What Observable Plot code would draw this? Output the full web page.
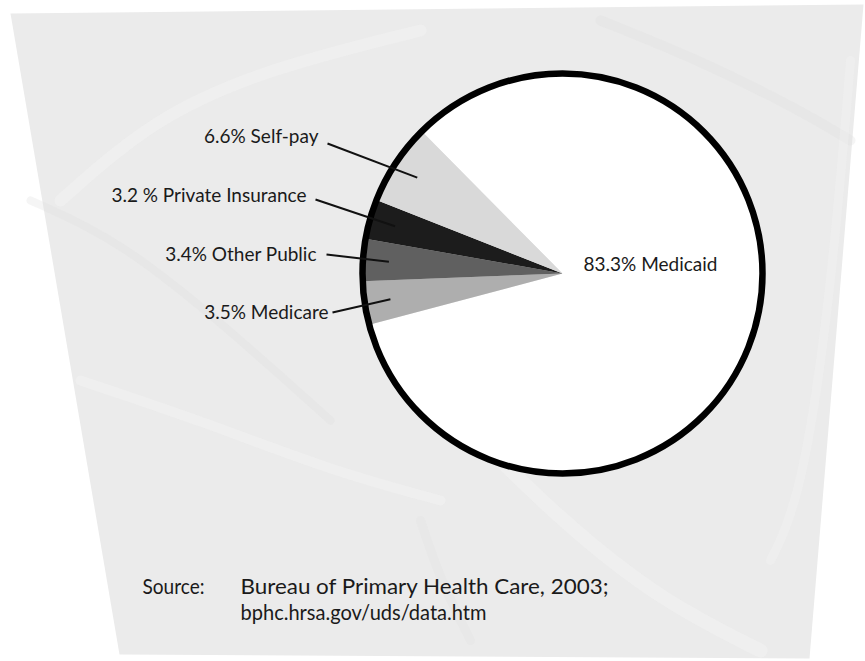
<!DOCTYPE html>
<html>
<head>
<meta charset="utf-8">
<script src="https://cdn.jsdelivr.net/npm/d3@7"></script>
<script src="https://cdn.jsdelivr.net/npm/@observablehq/plot@0.6"></script>
<style>
  html, body { margin: 0; padding: 0; background: #ffffff; }
  #chart svg { display: block; }
</style>
</head>
<body>
<div id="chart"></div>
<script>
// ---- data ----
const categories = ["Medicaid", "Medicare", "Other Public", "Private Insurance", "Self-pay"];
const shares = [83.3, 3.5, 3.4, 3.2, 6.6];
const labels = ["83.3% Medicaid", "3.5% Medicare", "3.4% Other Public", "3.2 % Private Insurance", "6.6% Self-pay"];
const sourceLabel = "Source:";
const sourceLines = ["Bureau of Primary Health Care, 2003;", "bphc.hrsa.gov/uds/data.htm"];

// ---- layout / style (not data) ----
const W = 865, H = 661;
const cx = 562, cy = 273, R = 200;
const startDeg = -44.7;
const sliceColors = ["#ffffff", "#aeaeae", "#606060", "#1c1c1c", "#d9d9d9"];
const font = "Lato, 'Open Sans', sans-serif";
const labelLayout = {
  "Medicaid":          {x: 583, y: 270, anchor: "start", lx: null},
  "Medicare":          {x: 328, y: 318, anchor: "end", lx: 332, ly: 312},
  "Other Public":      {x: 316, y: 260, anchor: "end", lx: 326, ly: 254},
  "Private Insurance": {x: 306, y: 201, anchor: "end", lx: 315, ly: 199},
  "Self-pay":          {x: 318, y: 142, anchor: "end", lx: 327, ly: 143}
};
const sourceWidths = [368, 246];
const sourceLabelWidth = 62;
const bgPoly = [[10, 13], [863, 4], [809, 658], [119, 654]];

// ---- build pie geometry from data ----
const rows = categories.map((name, i) => ({name, value: shares[i], label: labels[i]}));
const pie = d3.pie().sort(null).value(d => d.value)
  .startAngle(startDeg * Math.PI / 180)
  .endAngle(startDeg * Math.PI / 180 + 2 * Math.PI);
const arcs = pie(rows);
const slicePts = [];
for (const a of arcs) {
  slicePts.push({name: a.data.name, x: cx, y: cy});
  const n = Math.max(4, Math.ceil((a.endAngle - a.startAngle) / (Math.PI / 360)));
  for (let k = 0; k <= n; k++) {
    const t = a.startAngle + (a.endAngle - a.startAngle) * k / n;
    slicePts.push({name: a.data.name, x: cx + R * Math.sin(t), y: cy - R * Math.cos(t)});
  }
}
const leaderR = R * 0.87;
const leaders = arcs.filter(a => labelLayout[a.data.name].lx != null).map(a => {
  const m = (a.startAngle + a.endAngle) / 2;
  const L = labelLayout[a.data.name];
  return {x1: L.lx, y1: L.ly, x2: cx + leaderR * Math.sin(m), y2: cy - leaderR * Math.cos(m)};
});
const textRows = rows.map(r => ({...r, ...labelLayout[r.name]}));

// background texture streaks (decorative)
const streaks = [
  {id: "a", c: "#f7f7f7", w: 12, pts: [[60, 200], [150, 120], [260, 70], [420, 30]]},
  {id: "b", c: "#dedede", w: 8, pts: [[30, 200], [120, 240], [230, 330], [330, 420]]},
  {id: "c", c: "#f8f8f8", w: 10, pts: [[80, 380], [200, 420], [330, 470], [440, 500]]},
  {id: "d", c: "#fafafa", w: 14, pts: [[470, 430], [560, 520], [660, 600], [760, 650]]},
  {id: "e", c: "#dfdfdf", w: 10, pts: [[600, 20], [700, 60], [800, 110], [850, 140]]},
  {id: "f", c: "#f6f6f6", w: 9, pts: [[770, 560], [800, 500], [830, 300], [850, 60]]},
  {id: "g", c: "#e0e0e0", w: 9, pts: [[420, 520], [440, 580], [470, 640]]}
];
const streakPts = streaks.flatMap(s => s.pts.map(([x, y]) => ({id: s.id, x, y})));

const chart = Plot.plot({
  width: W, height: H,
  margin: 0,
  x: {domain: [0, W], range: [0, W], axis: null},
  y: {domain: [0, H], range: [0, H], axis: null},
  color: {domain: categories, range: sliceColors},
  style: {background: "#ffffff", fontFamily: font},
  marks: [
    Plot.line(bgPoly.map(([x, y]) => ({x, y})), {x: "x", y: "y", fill: "#ebebeb", stroke: "none", curve: "linear-closed"}),
    ...streaks.map(s => Plot.line(streakPts.filter(p => p.id === s.id), {x: "x", y: "y", stroke: s.c, strokeWidth: s.w, strokeOpacity: 0.3, curve: "basis", strokeLinecap: "round"})),
    Plot.line(slicePts, {x: "x", y: "y", z: "name", fill: "name", stroke: "none", curve: "linear-closed"}),
    Plot.dot([{x: cx, y: cy}], {x: "x", y: "y", r: R, fill: "none", stroke: "#000000", strokeWidth: 6.5}),
    Plot.link(leaders, {x1: "x1", y1: "y1", x2: "x2", y2: "y2", stroke: "#111111", strokeWidth: 2}),
    Plot.text(textRows.filter(d => d.anchor === "end"), {x: "x", y: "y", text: "label", textAnchor: "end", lineAnchor: "bottom", fontSize: 19, fill: "#1a1a1a"}),
    Plot.text(textRows.filter(d => d.anchor === "start"), {x: "x", y: "y", text: "label", textAnchor: "start", lineAnchor: "bottom", fontSize: 19, fill: "#1a1a1a"}),
    Plot.text([sourceLabel], {x: () => 142, y: () => 593, text: d => d, textAnchor: "start", lineAnchor: "bottom", fontSize: 21, fill: "#1a1a1a"}),
    Plot.text([sourceLines[0]], {x: () => 240, y: () => 593, text: d => d, textAnchor: "start", lineAnchor: "bottom", fontSize: 21, fill: "#1a1a1a"}),
    Plot.text([sourceLines[1]], {x: () => 240, y: () => 619, text: d => d, textAnchor: "start", lineAnchor: "bottom", fontSize: 21, fill: "#1a1a1a"})
  ]
});
// fit the source texts to the widths they take in the original typesetting
const fit = (str, w) => d3.select(chart).selectAll("text")
  .filter(function() { return this.textContent === str; })
  .attr("textLength", w).attr("lengthAdjust", "spacingAndGlyphs");
fit(sourceLabel, sourceLabelWidth);
sourceLines.forEach((line, i) => fit(line, sourceWidths[i]));
document.getElementById("chart").appendChild(chart);
</script>
</body>
</html>
